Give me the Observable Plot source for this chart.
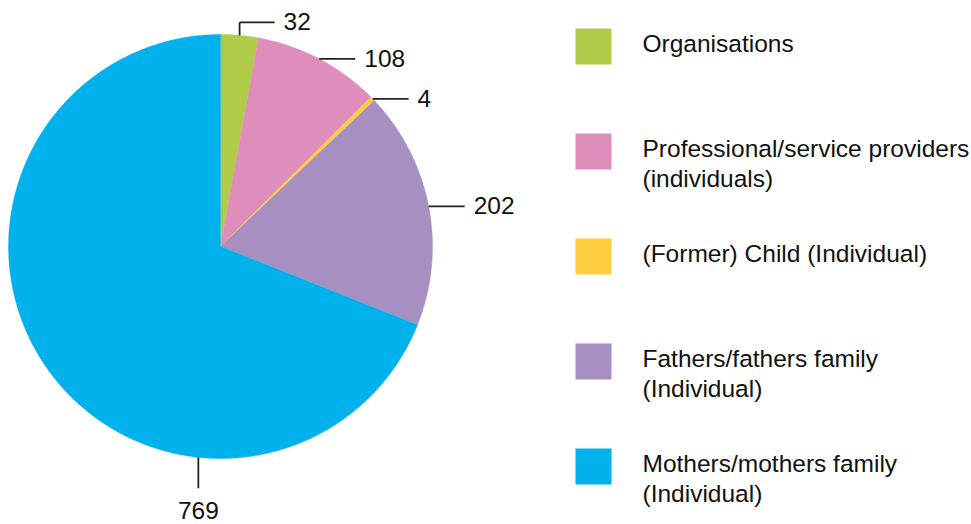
<!DOCTYPE html>
<html><head><meta charset="utf-8">
<script src="https://cdn.jsdelivr.net/npm/d3@7"></script>
<script src="https://cdn.jsdelivr.net/npm/@observablehq/plot@0.6"></script>
<style>
html,body{margin:0;padding:0;background:#fff;}
#chart{display:flex;width:971px;height:524px;font-family:"Liberation Sans",Arial,sans-serif;}
#chart svg{display:block;overflow:visible;}
</style></head><body><div id="chart"></div>
<script>
// ---- data ----
const categories = [
  "Organisations",
  "Professional/service providers (individuals)",
  "(Former) Child (Individual)",
  "Fathers/fathers family (Individual)",
  "Mothers/mothers family (Individual)"
];
const legendLabels = [
  "Organisations",
  "Professional/service providers\n(individuals)",
  "(Former) Child (Individual)",
  "Fathers/fathers family\n(Individual)",
  "Mothers/mothers family\n(Individual)"
];
const values = [32, 108, 4, 202, 769];
const colors = ["#B0CB47", "#DF8DBA", "#FFCD3F", "#A78FC1", "#00B1EB"];

// ---- layout ----
const W = 971, H = 524, pieW = 560;
const cx = 220, cy = 246, R = 212;
const px = 1 / R; // one pixel in unit-circle coordinates
const leaderStyle = ["elbow", "right", "right", "right", "down"];
const downAngle = Math.PI * 186 / 180;
const font = '"Liberation Sans", Arial, sans-serif';
const fs = 24.5;

const arcs = d3.pie().sort(null).value(d => d)(values);

const slices = [];
arcs.forEach((a, i) => {
  slices.push({cat: categories[i], x: 0, y: 0});
  const n = Math.max(2, Math.ceil((a.endAngle - a.startAngle) / 0.004));
  for (let k = 0; k <= n; k++) {
    const t = a.startAngle + (a.endAngle - a.startAngle) * k / n;
    slices.push({cat: categories[i], x: Math.sin(t), y: -Math.cos(t)});
  }
});

const leaders = [], sideLabels = [], bottomLabels = [];
arcs.forEach((a, i) => {
  const style = leaderStyle[i];
  const m = style === "down" ? downAngle : (a.startAngle + a.endAngle) / 2;
  const x0 = Math.sin(m), y0 = -Math.cos(m);
  const text = String(values[i]);
  if (style === "elbow") {
    const y1 = y0 - 13 * px, x2 = x0 + 35 * px;
    leaders.push({x1: x0, y1: y0, x2: x0, y2: y1}, {x1: x0, y1: y1, x2: x2, y2: y1});
    sideLabels.push({x: x2 + 9 * px, y: y1, text});
  } else if (style === "right") {
    const x2 = x0 + 36 * px;
    leaders.push({x1: x0, y1: y0, x2: x2, y2: y0});
    sideLabels.push({x: x2 + 9 * px, y: y0, text});
  } else {
    const y2 = y0 + 31 * px;
    leaders.push({x1: x0, y1: y0, x2: x0, y2: y2});
    bottomLabels.push({x: x0, y: y2 + 13 * px, text});
  }
});

const pie = Plot.plot({
  width: pieW, height: H, margin: 0,
  x: {domain: [-1, 1], range: [cx - R, cx + R], axis: null},
  y: {domain: [-1, 1], range: [cy - R, cy + R], axis: null},
  color: {domain: categories, range: colors},
  style: {fontFamily: font, background: "transparent"},
  marks: [
    Plot.line(slices, {x: "x", y: "y", z: "cat", fill: "cat", stroke: "cat", strokeWidth: 0.4, curve: "linear-closed"}),
    Plot.link(leaders, {x1: "x1", y1: "y1", x2: "x2", y2: "y2", stroke: "#222", strokeWidth: 1.8}),
    Plot.text(sideLabels, {x: "x", y: "y", text: "text", textAnchor: "start", lineAnchor: "middle", fontSize: fs, fill: "#111"}),
    Plot.text(bottomLabels, {x: "x", y: "y", text: "text", textAnchor: "middle", lineAnchor: "top", fontSize: fs, fill: "#111"})
  ]
});

const legend = Plot.plot({
  width: W - pieW, height: H, margin: 0, marginLeft: 33,
  y: {type: "point", domain: categories, range: [46, 466], padding: 0, axis: null},
  color: {domain: categories, range: colors},
  style: {fontFamily: font, background: "transparent"},
  marks: [
    Plot.dot(categories, {y: d => d, fill: d => d, symbol: "square", r: 36 / Math.sqrt(Math.PI), frameAnchor: "left"}),
    Plot.text(categories, {y: d => d, text: (d, i) => legendLabels[i], frameAnchor: "left", dx: 49, dy: -15,
      textAnchor: "start", lineAnchor: "top", lineHeight: 1.2, fontSize: fs, fill: "#111"})
  ]
});

document.getElementById("chart").append(pie, legend);
</script>
</body></html>
